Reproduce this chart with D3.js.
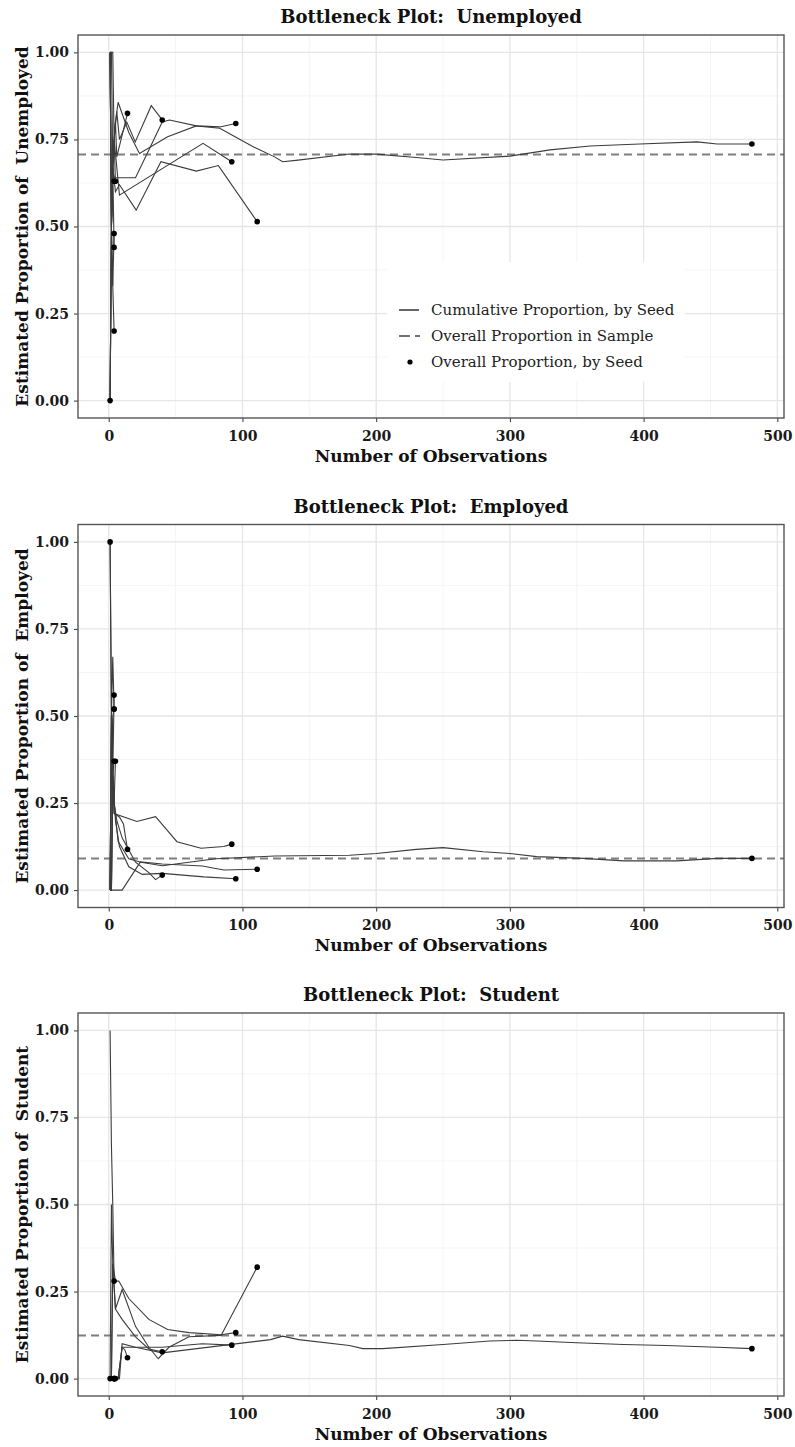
<!DOCTYPE html>
<html>
<head>
<meta charset="utf-8">
<script src="https://cdnjs.cloudflare.com/ajax/libs/d3/7.8.5/d3.min.js"></script>
<style>
    body { margin: 0; background: white; }
    svg text { font-family: 'DejaVu Serif', serif; }
</style>
</head>
<body>
<div id="graphContainer"></div>
<script>
// number of observations recruited per seed (x of the end point)
const seedSizes = [1, 4, 4, 4, 4, 5, 14, 40, 92, 95, 111, 481];

// cumulative proportion, by seed: [observation, proportion]
const unemployedCum = [
    [[1, 0]],
    [[1, 0], [2, 0.5], [3, 0.33], [4, 0.2]],
    [[1, 1], [2, 0.5], [3, 0.67], [4, 0.44]],
    [[1, 0], [2, 0.5], [3, 0.33], [4, 0.48]],
    [[1, 1], [2, 0.5], [3, 0.67], [4, 0.63]],
    [[1, 1], [2, 1], [3, 0.67], [4, 0.75], [5, 0.63]],
    [[1, 1], [2, 0.5], [3, 0.67], [4, 0.75], [5, 0.8], [6, 0.7], [14, 0.825]],
    [[1, 0], [2, 0.5], [3, 0.67], [4, 0.75], [6, 0.83], [8, 0.75], [13.5, 0.8], [19.8, 0.743], [31.8, 0.847], [40, 0.806]],
    [[1, 0], [2, 0.5], [3, 0.67], [4, 0.75], [6, 0.67], [8, 0.59], [70.5, 0.739], [92, 0.686]],
    [[1, 1], [2, 0.5], [3, 0.67], [4, 0.64], [20, 0.64], [30, 0.72], [40, 0.8], [45.5, 0.806], [65.5, 0.789], [83, 0.786], [95, 0.796]],
    [[1, 1], [2, 0.5], [3, 0.67], [5, 0.6], [8, 0.62], [20.5, 0.547], [39, 0.686], [65.5, 0.659], [82, 0.675], [111, 0.514]],
    [[1, 1], [2, 1], [3, 1], [4, 0.75], [5, 0.8], [7, 0.857], [15, 0.77], [23, 0.71], [44, 0.758], [65.5, 0.789], [83, 0.782],
     [108, 0.729], [124, 0.7], [130, 0.686], [140, 0.69], [180, 0.708], [200, 0.708], [230, 0.698], [250, 0.691], [300, 0.702],
     [330, 0.72], [360, 0.731], [397, 0.737], [440, 0.743], [455, 0.737], [481, 0.737]]
];

const employedCum = [
    [[1, 1]],
    [[1, 0], [2, 0.33], [3, 0.5], [4, 0.52]],
    [[1, 0], [2, 0.5], [3, 0.33], [4, 0.56]],
    [[1, 1], [2, 0.5], [3, 0.67], [4, 0.52]],
    [[1, 0], [2, 0.5], [3, 0.33], [4, 0.37]],
    [[1, 0], [2, 0], [3, 0.33], [4, 0.25], [5, 0.37]],
    [[1, 0], [2, 0.5], [3, 0.33], [4, 0.22], [8, 0.21], [11, 0.19], [14, 0.117]],
    [[1, 0], [2, 0.5], [3, 0.33], [4, 0.25], [6, 0.2], [10, 0.15], [20, 0.08], [30, 0.05], [35, 0.03], [40, 0.043]],
    [[1, 1], [2, 0.5], [3, 0.33], [4, 0.22], [21, 0.197], [35, 0.211], [51, 0.139], [69, 0.12], [86, 0.125], [92, 0.132]],
    [[1, 0], [2, 0], [3, 0.33], [5, 0.2], [8, 0.125], [15, 0.067], [25, 0.045], [40, 0.048], [71, 0.038], [95, 0.0325]],
    [[1, 0], [10, 0], [23.7, 0.081], [40, 0.075], [70, 0.069], [86, 0.0575], [111, 0.06]],
    [[1, 0], [2, 0], [3, 0.33], [4, 0.25], [7, 0.14], [15, 0.09], [24, 0.08], [40, 0.07], [60, 0.08], [80, 0.09], [124, 0.098],
     [180, 0.1], [200, 0.105], [230, 0.117], [250, 0.122], [280, 0.11], [300, 0.105], [320, 0.096], [355, 0.091], [385, 0.084],
     [425, 0.084], [455, 0.091], [481, 0.091]]
];

const studentCum = [
    [[1, 0]],
    [[1, 1], [2, 0.67], [3, 0.5], [4, 0.28]],
    [[1, 0], [2, 0], [3, 0], [4, 0]],
    [[1, 0], [2, 0], [3, 0], [4, 0]],
    [[1, 0], [2, 0], [3, 0], [4, 0]],
    [[1, 0], [3, 0], [5, 0]],
    [[1, 0], [5, 0], [7, 0], [10, 0.09], [12, 0.083], [14, 0.06]],
    [[1, 0], [2, 0], [3, 0.33], [5, 0.2], [10, 0.17], [20, 0.12], [30, 0.085], [40, 0.077]],
    [[1, 0], [4, 0], [7, 0], [10, 0.09], [20, 0.09], [40, 0.09], [70, 0.1], [92, 0.096]],
    [[1, 0], [2, 0.5], [3, 0.33], [5, 0.28], [7.5, 0.28], [15, 0.23], [30, 0.17], [44, 0.141], [60, 0.132], [84, 0.126], [95, 0.132]],
    [[1, 0], [2, 0], [3, 0.33], [5, 0.2], [10, 0.256], [20, 0.15], [30, 0.09], [37, 0.057], [45, 0.09], [60, 0.12], [84, 0.124], [111, 0.32]],
    [[1, 0], [2, 0], [3, 0], [5, 0], [8, 0], [10, 0.1], [20, 0.09], [40, 0.074], [121, 0.112], [130, 0.122], [142, 0.112],
     [180, 0.095], [190, 0.086], [205, 0.086], [250, 0.098], [285, 0.108], [305, 0.11], [320, 0.108], [350, 0.103], [385, 0.098],
     [417, 0.095], [455, 0.09], [481, 0.086]]
];

// overall proportion in the whole sample
const overallProportion = [0.707, 0.091, 0.124];
const groupNames = ['Unemployed', 'Employed', 'Student'];

const xTicks = [0, 100, 200, 300, 400, 500];
const xMinor = [50, 150, 250, 350, 450];
const yTicks = [0, 0.25, 0.5, 0.75, 1];
const yMinor = [0.125, 0.375, 0.625, 0.875];
const legendLabels = ['Cumulative Proportion, by Seed', 'Overall Proportion in Sample', 'Overall Proportion, by Seed'];

const width = 795;
const height = 1447;
const panelLeft = 78;
const panelRight = 784;
const panelHeight = 383;
const panelTops = [35, 524.5, 1013];

drawGraph();

function drawGraph() {
    const svg = d3.select('#graphContainer')
        .append('svg')
        .attr('width', width)
        .attr('height', height)
        .style('background', 'white');

    const series = [unemployedCum, employedCum, studentCum];
    series.forEach(function (cum, i) {
        drawPanel(svg, cum, overallProportion[i], groupNames[i], panelTops[i], i === 0);
    });
}

function drawPanel(svg, cum, overall, name, top, withLegend) {
    const bottom = top + panelHeight;

    // ggplot style 5% expansion of the data range
    const allX = cum.flat().map(function (d) { return d[0]; });
    const xMin = d3.min(allX), xMax = d3.max(allX);
    const pad = (xMax - xMin) * 0.05;
    const x = d3.scaleLinear()
        .domain([xMin - pad, xMax + pad])
        .range([panelLeft, panelRight]);
    const y = d3.scaleLinear()
        .domain([-0.05, 1.05])
        .range([bottom, top]);

    const g = svg.append('g');

    g.append('rect')
        .attr('x', panelLeft)
        .attr('y', top)
        .attr('width', panelRight - panelLeft)
        .attr('height', panelHeight)
        .attr('fill', 'white');

    // grid
    const grid = g.append('g').attr('class', 'grid');
    grid.selectAll('.xminor').data(xMinor).enter().append('line')
        .attr('x1', function (d) { return x(d); })
        .attr('x2', function (d) { return x(d); })
        .attr('y1', top).attr('y2', bottom)
        .attr('stroke', '#f2f2f2').attr('stroke-width', 0.8);
    grid.selectAll('.yminor').data(yMinor).enter().append('line')
        .attr('y1', function (d) { return y(d); })
        .attr('y2', function (d) { return y(d); })
        .attr('x1', panelLeft).attr('x2', panelRight)
        .attr('stroke', '#f2f2f2').attr('stroke-width', 0.8);
    grid.selectAll('.xmajor').data(xTicks).enter().append('line')
        .attr('x1', function (d) { return x(d); })
        .attr('x2', function (d) { return x(d); })
        .attr('y1', top).attr('y2', bottom)
        .attr('stroke', '#e6e6e6').attr('stroke-width', 1.3);
    grid.selectAll('.ymajor').data(yTicks).enter().append('line')
        .attr('y1', function (d) { return y(d); })
        .attr('y2', function (d) { return y(d); })
        .attr('x1', panelLeft).attr('x2', panelRight)
        .attr('stroke', '#e6e6e6').attr('stroke-width', 1.3);

    // overall proportion in sample
    g.append('line')
        .attr('x1', panelLeft)
        .attr('x2', panelRight)
        .attr('y1', y(overall))
        .attr('y2', y(overall))
        .attr('stroke', '#7f7f7f')
        .attr('stroke-width', 2)
        .attr('stroke-dasharray', '8,5');

    // cumulative proportion lines
    const line = d3.line()
        .x(function (d) { return x(d[0]); })
        .y(function (d) { return y(d[1]); });

    g.append('g')
        .selectAll('path')
        .data(cum.filter(function (d) { return d.length > 1; }))
        .enter()
        .append('path')
        .attr('d', line)
        .attr('fill', 'none')
        .attr('stroke', '#3c3c3c')
        .attr('stroke-width', 1.1);

    // overall proportion per seed = last value of each seed
    g.append('g')
        .selectAll('circle')
        .data(cum)
        .enter()
        .append('circle')
        .attr('cx', function (d) { return x(d[d.length - 1][0]); })
        .attr('cy', function (d) { return y(d[d.length - 1][1]); })
        .attr('r', 2.8)
        .attr('fill', 'black');

    // axes
    const xAxis = g.append('g')
        .attr('transform', 'translate(0,' + bottom + ')')
        .call(d3.axisBottom(x).tickValues(xTicks).tickFormat(d3.format('d')).tickSize(4).tickPadding(9));
    const yAxis = g.append('g')
        .attr('transform', 'translate(' + panelLeft + ',0)')
        .call(d3.axisLeft(y).tickValues(yTicks).tickFormat(d3.format('.2f')).tickSize(4).tickPadding(5));

    [xAxis, yAxis].forEach(function (ax) {
        ax.select('.domain').remove();
        ax.selectAll('.tick line').attr('stroke', '#444').attr('stroke-width', 1.1);
        ax.selectAll('.tick text')
            .attr('fill', '#1a1a1a')
            .style('font-family', "'DejaVu Serif', serif")
            .style('font-size', '14px')
            .style('font-weight', 'bold');
    });

    // panel border
    g.append('rect')
        .attr('x', panelLeft)
        .attr('y', top)
        .attr('width', panelRight - panelLeft)
        .attr('height', panelHeight)
        .attr('fill', 'none')
        .attr('stroke', '#555')
        .attr('stroke-width', 1.4);

    // titles
    const mid = (panelLeft + panelRight) / 2;
    g.append('text')
        .attr('x', mid)
        .attr('y', top - 12)
        .attr('text-anchor', 'middle')
        .style('font-size', '18px')
        .style('font-weight', 'bold')
        .attr('fill', '#111')
        .text('Bottleneck Plot:\u00a0 ' + name);

    g.append('text')
        .attr('x', mid)
        .attr('y', bottom + 43.5)
        .attr('text-anchor', 'middle')
        .style('font-size', '17px')
        .style('font-weight', 'bold')
        .attr('fill', '#111')
        .text('Number of Observations');

    g.append('text')
        .attr('transform', 'translate(28,' + (top + panelHeight / 2) + ') rotate(-90)')
        .attr('text-anchor', 'middle')
        .style('font-size', '17px')
        .style('font-weight', 'bold')
        .attr('fill', '#111')
        .text('Estimated Proportion of\u00a0 ' + name);

    if (withLegend) drawLegend(g, y);
}

function drawLegend(g) {
    const lx = 387, ly = 262;
    const legend = g.append('g').attr('class', 'legend');

    legend.append('rect')
        .attr('x', lx)
        .attr('y', ly)
        .attr('width', 298)
        .attr('height', 120)
        .attr('fill', 'white');

    const rows = legend.selectAll('g')
        .data(legendLabels)
        .enter()
        .append('g')
        .attr('transform', function (d, i) {
            return 'translate(' + lx + ',' + (ly + 48 + i * 26) + ')';
        });

    rows.each(function (d, i) {
        const row = d3.select(this);
        if (i === 0) {
            row.append('line')
                .attr('x1', 12).attr('x2', 32)
                .attr('stroke', '#333').attr('stroke-width', 1.5);
        } else if (i === 1) {
            row.append('line')
                .attr('x1', 12).attr('x2', 33)
                .attr('stroke', '#444').attr('stroke-width', 1.5)
                .attr('stroke-dasharray', '11,5');
        } else {
            row.append('circle')
                .attr('cx', 23).attr('cy', 0)
                .attr('r', 2.6)
                .attr('fill', 'black');
        }
        row.append('text')
            .attr('x', 44)
            .attr('dy', '0.35em')
            .style('font-size', '15px')
            .attr('fill', '#222')
            .text(d);
    });
}
</script>
</body>
</html>
